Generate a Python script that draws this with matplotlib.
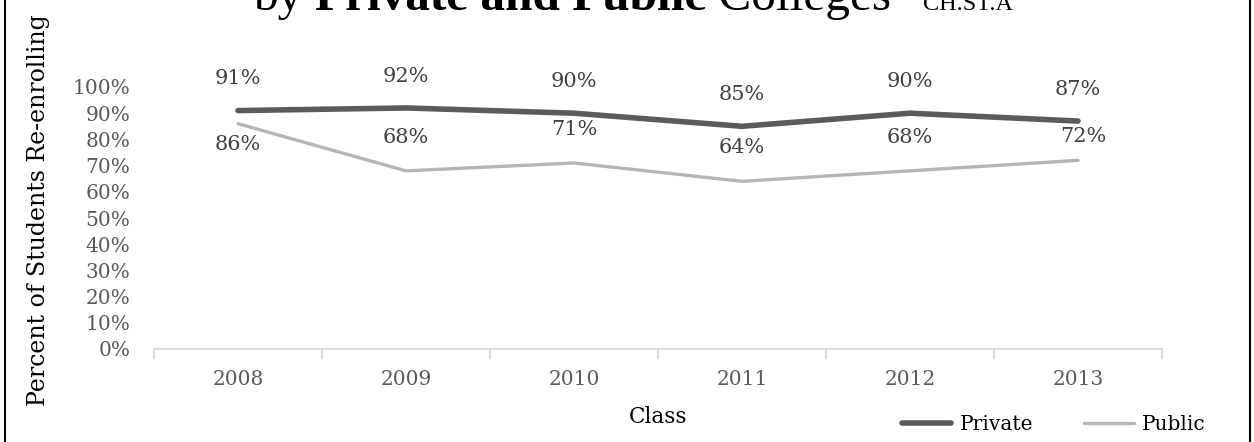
import matplotlib
matplotlib.use("Agg")
import matplotlib.pyplot as plt
from matplotlib.lines import Line2D

classes = ["2008", "2009", "2010", "2011", "2012", "2013"]
private = [0.91, 0.92, 0.90, 0.85, 0.90, 0.87]
public = [0.86, 0.68, 0.71, 0.64, 0.68, 0.72]
yticks = [0.0, 0.1, 0.2, 0.3, 0.4, 0.5, 0.6, 0.7, 0.8, 0.9, 1.0]

# label offsets (points) for the public series data labels
public_label_dx = [0, 0, 0, 0, 0, 4]
public_label_dy = [-15, 24, 24, 24, 24, 17]

SERIF = "DejaVu Serif"
C_PRIV = "#5b5b5b"
C_PUB = "#b5b5b5"
C_TXT = "#595959"
C_LBL = "#404040"

W, H = 1254, 442
fig = plt.figure(figsize=(W / 100, H / 100), dpi=100)
ax = fig.add_axes([154 / W, 1 - 349 / H, (1162 - 154) / W, (349 - 87) / H])

x = list(range(len(classes)))
ax.plot(x, private, color=C_PRIV, lw=4.0, solid_capstyle="round", solid_joinstyle="round", zorder=3)
ax.plot(x, public, color=C_PUB, lw=2.4, solid_capstyle="round", solid_joinstyle="round", zorder=2)

for i, v in enumerate(private):
    ax.annotate(f"{round(v*100)}%", (i, v), xytext=(0, 23), textcoords="offset points",
                ha="center", va="center", fontsize=15, family=SERIF, color=C_LBL)
for i, v in enumerate(public):
    ax.annotate(f"{round(v*100)}%", (i, v), xytext=(public_label_dx[i], public_label_dy[i]),
                textcoords="offset points", ha="center", va="center", fontsize=15,
                family=SERIF, color=C_LBL)

ax.set_xlim(-0.5, len(classes) - 0.5)
ax.set_ylim(0, 1)
ax.set_yticks(yticks)
ax.set_yticklabels([f"{round(t*100)}%" for t in yticks], family=SERIF, fontsize=14.5, color=C_TXT)
ax.set_xticks([i - 0.5 for i in range(len(classes) + 1)], minor=False)
ax.set_xticklabels([])
ax.set_xticks(x, minor=True)
ax.set_xticklabels(classes, minor=True, family=SERIF, fontsize=14.5, color=C_TXT)
ax.tick_params(axis="x", which="major", length=7, color="#d9d9d9", width=1.3, direction="out")
ax.tick_params(axis="x", which="minor", length=0, pad=15)
ax.tick_params(axis="y", length=0, pad=17)
for s in ["top", "right", "left"]:
    ax.spines[s].set_visible(False)
ax.spines["bottom"].set_color("#d9d9d9")
ax.spines["bottom"].set_linewidth(1.3)

fig.text(39 / W, 1 - 210 / H, "Percent of Students Re-enrolling", rotation=90, ha="center", va="center",
         family=SERIF, fontsize=17, color="black")
fig.text(658 / W, 1 - 417 / H, "Class", ha="center", va="center", family=SERIF, fontsize=15.5, color="black")

# legend
handles = [Line2D([], [], color=C_PRIV, lw=4.0, solid_capstyle="round"),
           Line2D([], [], color=C_PUB, lw=2.4, solid_capstyle="round")]
leg = fig.legend(handles, ["Private", "Public"], loc="center left", bbox_to_anchor=(902 / W, 1 - 425 / H),
                 ncol=2, frameon=False, prop={"family": SERIF, "size": 14.5}, handlelength=2.45,
                 handletextpad=0.4, columnspacing=2.55, borderpad=0, borderaxespad=0)

# title pieces
fig.canvas.draw()
r = fig.canvas.get_renderer()
xpos = 253 / W
ybase = 1 - 10 / H
pieces = [("by ", "normal"), ("Private and Public", "bold"), (" Colleges", "normal")]
for txt, wt in pieces:
    t = fig.text(xpos, ybase, txt, family="Liberation Serif", fontweight=wt, fontsize=35.5,
                 va="baseline", ha="left")
    bb = t.get_window_extent(renderer=r)
    xpos = bb.x1 / W
fig.text(923 / W, ybase, "CH.ST.A", family="Liberation Serif", fontsize=17.5, va="baseline", ha="left")

# frame borders
fig.add_artist(Line2D([5 / W, 5 / W], [0, 1], color="black", lw=1.5, transform=fig.transFigure))
fig.add_artist(Line2D([1250 / W, 1250 / W], [0, 1], color="black", lw=1.5, transform=fig.transFigure))

fig.savefig("out.png", dpi=100)
